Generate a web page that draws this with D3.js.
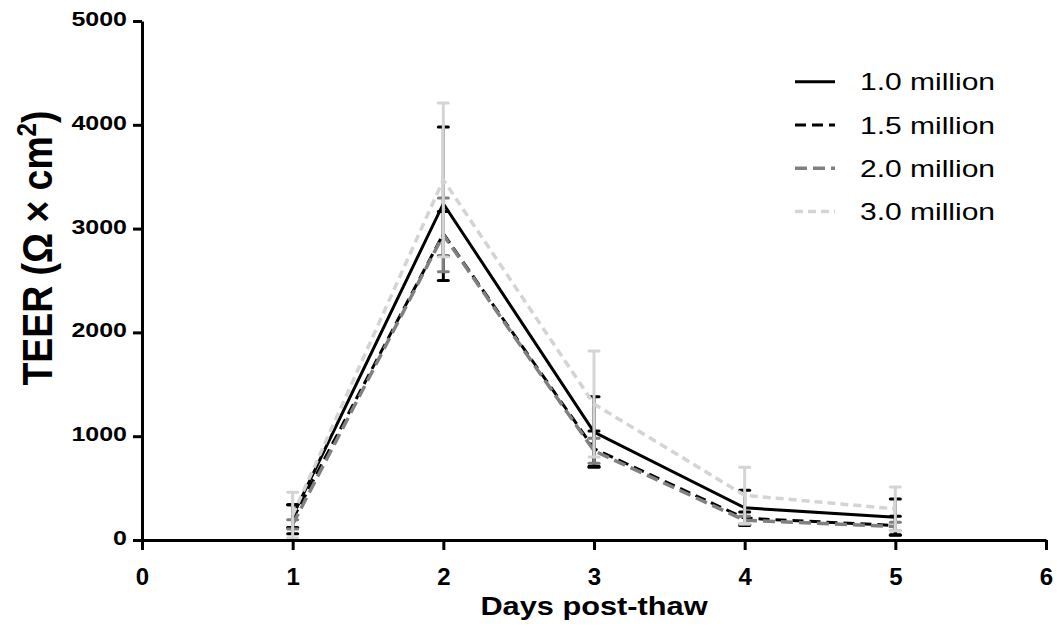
<!DOCTYPE html>
<html lang="en">
<head>
    <meta charset="UTF-8">
    <title>TEER post-thaw</title>
    <style>
        body { margin: 0; background: #fff; }
        .axis path, .axis line { stroke: #000; stroke-width: 3px; }
        .axis text { font-family: "Liberation Sans", Arial, sans-serif; font-weight: bold; fill: #000; }
    </style>
    <script src="https://d3js.org/d3.v7.min.js"></script>
</head>
<body>
<svg id="chart" width="1057" height="632"></svg>
<script>
    // values
    const days = [1, 2, 3, 4, 5];
    const seriesNames = ["1.0 million", "1.5 million", "2.0 million", "3.0 million"];
    const mean10 = [230, 3240, 1040, 310, 220];
    const sd10 = [110, 740, 340, 170, 175];
    const mean15 = [200, 2950, 880, 210, 140];
    const sd15 = [140, 215, 170, 60, 90];
    const mean20 = [150, 2940, 860, 190, 130];
    const sd20 = [45, 355, 120, 40, 40];
    const mean30 = [240, 3470, 1310, 430, 300];
    const sd30 = [220, 740, 510, 270, 210];
    const xTicks = [0, 1, 2, 3, 4, 5, 6];
    const yTicks = [0, 1000, 2000, 3000, 4000, 5000];

    const series = [
        { name: seriesNames[0], mean: mean10, sd: sd10, color: "#000", dash: null, width: 3 },
        { name: seriesNames[1], mean: mean15, sd: sd15, color: "#000", dash: "11,6", width: 3 },
        { name: seriesNames[2], mean: mean20, sd: sd20, color: "#808080", dash: "12,6", width: 3.5 },
        { name: seriesNames[3], mean: mean30, sd: sd30, color: "#d4d4d4", dash: "8,5", width: 3.5 }
    ];

    const svg = d3.select("#chart");
    const x = d3.scaleLinear().domain([0, 6]).range([142, 1046]);
    const y = d3.scaleLinear().domain([0, 5000]).range([540, 21]);

    const line = d3.line().x((d, i) => x(days[i])).y(d => y(d));

    const plot = svg.append("g");
    series.forEach(s => {
        plot.append("path")
            .datum(s.mean)
            .attr("d", line)
            .attr("fill", "none")
            .attr("stroke", s.color)
            .attr("stroke-width", s.width)
            .attr("stroke-dasharray", s.dash);

        // error bars, solid, same colour
        const eb = plot.append("g");
        s.mean.forEach((m, i) => {
            const hi = m + s.sd[i], lo = Math.max(0, m - s.sd[i]);
            const cx = x(days[i]);
            eb.append("line").attr("x1", cx).attr("x2", cx).attr("y1", y(hi)).attr("y2", y(lo))
                .attr("stroke", s.color).attr("stroke-width", 3);
            [hi, lo].forEach(v => {
                eb.append("line").attr("x1", cx - 5).attr("x2", cx + 5).attr("y1", y(v)).attr("y2", y(v))
                    .attr("stroke", s.color).attr("stroke-width", 3).attr("stroke-linecap", "round");
            });
        });
    });

    // axes
    svg.append("g")
        .attr("class", "axis")
        .attr("transform", "translate(0,540)")
        .call(d3.axisBottom(x).tickValues(xTicks).tickFormat(d3.format("d")).tickSize(10).tickSizeOuter(0))
        .call(g => g.selectAll("text").attr("font-size", 24).attr("y", 45).attr("dy", 0));

    svg.append("g")
        .attr("class", "axis")
        .attr("transform", "translate(142,0)")
        .call(d3.axisLeft(y).tickValues(yTicks).tickFormat(d3.format("d")).tickSize(9).tickSizeOuter(0))
        .call(g => g.selectAll("text").attr("font-size", 20).attr("x", 0)
            .attr("transform", "translate(-15,-2) scale(1.25,1)"));

    // axis titles
    svg.append("text")
        .attr("transform", "translate(594,615) scale(1.23,1)")
        .attr("text-anchor", "middle")
        .attr("font-family", "'Liberation Sans', Arial, sans-serif")
        .attr("font-weight", "bold").attr("font-size", 25)
        .text("Days post-thaw");

    const yt = svg.append("text")
        .attr("transform", "translate(52,248) rotate(-90) scale(1.1,1.25)")
        .attr("text-anchor", "middle")
        .attr("font-family", "'Liberation Sans', Arial, sans-serif")
        .attr("font-weight", "bold").attr("font-size", 34);
    yt.append("tspan").text("TEER (\u03A9 \u00D7 cm");
    yt.append("tspan").attr("font-size", 22).attr("dy", -13).text("2");
    yt.append("tspan").attr("dy", 13).text(")");

    // legend
    const legend = svg.append("g");
    series.forEach((s, i) => {
        const ly = 81.7 + i * 43.3;
        legend.append("line")
            .attr("x1", 795).attr("x2", 835).attr("y1", ly).attr("y2", ly)
            .attr("stroke", s.color).attr("stroke-width", s.width)
            .attr("stroke-dasharray", s.dash);
        legend.append("text")
            .attr("transform", `translate(860,${ly}) scale(1.25,1)`)
            .attr("dy", "0.36em")
            .attr("font-family", "'Liberation Sans', Arial, sans-serif")
            .attr("font-size", 24)
            .text(s.name);
    });
</script>
</body>
</html>
